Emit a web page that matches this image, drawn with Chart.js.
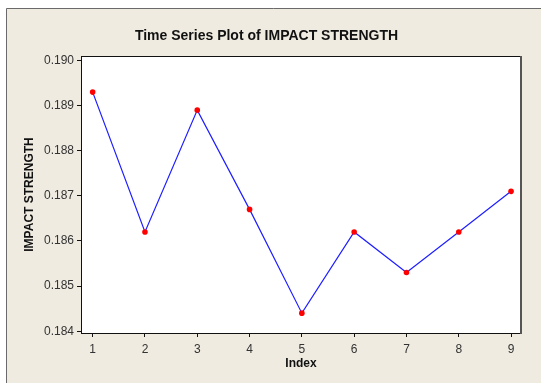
<!DOCTYPE html>
<html>
<head>
<meta charset="utf-8">
<script src="https://cdn.jsdelivr.net/npm/chart.js@4"></script>
<style>
  html, body { margin: 0; padding: 0; background: #fff; }
  #wrap { width: 541px; height: 383px; }
</style>
</head>
<body>
<div id="wrap"><canvas id="tsChart" width="541" height="383"></canvas></div>
<script>
// Data
const indexValues = [1, 2, 3, 4, 5, 6, 7, 8, 9];
const impactStrength = [0.1893, 0.1862, 0.1889, 0.1867, 0.1844, 0.1862, 0.1853, 0.1862, 0.1871];
const xTicks = [1, 2, 3, 4, 5, 6, 7, 8, 9];
const yTicks = [0.184, 0.185, 0.186, 0.187, 0.188, 0.189, 0.190];

const points = indexValues.map((x, i) => ({ x: x, y: impactStrength[i] }));

// Minitab style frame: beige panel, white plot area
const framePlugin = {
  id: 'frame',
  beforeDraw: function(chart) {
    const c = chart.ctx;
    const a = chart.chartArea;
    c.save();
    c.fillStyle = '#ffffff';
    c.fillRect(0, 0, chart.width, chart.height);
    c.fillStyle = '#efebe1';
    c.fillRect(6, 8, chart.width - 6, chart.height - 8);
    c.strokeStyle = '#6a6a6a';
    c.lineWidth = 1;
    c.beginPath();
    c.moveTo(6.5, chart.height);
    c.lineTo(6.5, 8.5);
    c.lineTo(chart.width, 8.5);
    c.stroke();
    c.fillStyle = '#ffffff';
    c.fillRect(a.left, a.top, a.right - a.left, a.bottom - a.top);
    c.restore();
  },
  afterDatasetsDraw: function(chart) {
    const c = chart.ctx;
    const a = chart.chartArea;
    c.save();
    c.lineWidth = 1;
    c.strokeStyle = '#111';
    c.beginPath();
    c.moveTo(a.left, a.top + 0.5);
    c.lineTo(a.right, a.top + 0.5);
    c.stroke();
    c.strokeStyle = '#555';
    c.lineWidth = 2;
    c.beginPath();
    c.moveTo(a.right, a.top);
    c.lineTo(a.right, a.bottom + 1);
    c.stroke();
    c.restore();
  }
};

new Chart(document.getElementById('tsChart'), {
  type: 'line',
  data: {
    datasets: [{
      label: 'IMPACT STRENGTH',
      data: points,
      borderColor: 'rgb(30, 30, 255)',
      borderWidth: 1.2,
      pointBackgroundColor: '#ff0000',
      pointBorderColor: '#ff0000',
      pointBorderWidth: 0,
      pointRadius: 2.8,
      tension: 0,
      fill: false
    }]
  },
  options: {
    responsive: false,
    animation: false,
    layout: { padding: { left: 12, right: 20, top: 0, bottom: 0 } },
    plugins: {
      legend: { display: false },
      tooltip: { enabled: false },
      title: {
        display: true,
        text: 'Time Series Plot of IMPACT STRENGTH',
        color: '#111',
        font: { family: 'Liberation Sans, Arial, sans-serif', size: 14, weight: 'bold' },
        padding: { top: 27.6, bottom: 11.6 }
      }
    },
    scales: {
      x: {
        type: 'linear',
        min: 0.777,
        max: 9.19,
        afterBuildTicks: function(scale) {
          scale.ticks = xTicks.map((v) => ({ value: v }));
        },
        afterFit: function(scale) { scale.height = 50; },
        border: { display: true, color: '#111', width: 1 },
        grid: { drawOnChartArea: false, drawTicks: true, tickLength: 4, color: '#111' },
        ticks: {
          color: '#333',
          padding: 5,
          maxRotation: 0,
          font: { family: 'Liberation Sans, Arial, sans-serif', size: 12 },
          callback: (v) => String(v)
        },
        title: {
          display: true,
          text: 'Index',
          color: '#111',
          font: { family: 'Liberation Sans, Arial, sans-serif', size: 12, weight: 'bold' },
          padding: { top: 4, bottom: 12 }
        }
      },
      y: {
        type: 'linear',
        min: 0.18396,
        max: 0.19010,
        afterBuildTicks: function(scale) {
          scale.ticks = yTicks.map((v) => ({ value: v }));
        },
        afterFit: function(scale) { scale.width = 69; },
        border: { display: true, color: '#111', width: 1 },
        grid: { drawOnChartArea: false, drawTicks: true, tickLength: 4, color: '#111' },
        ticks: {
          color: '#333',
          padding: 3,
          font: { family: 'Liberation Sans, Arial, sans-serif', size: 12 },
          callback: (v) => v.toFixed(3)
        },
        title: {
          display: true,
          text: 'IMPACT STRENGTH',
          color: '#111',
          font: { family: 'Liberation Sans, Arial, sans-serif', size: 12, weight: 'bold' },
          padding: { top: 10, bottom: 4 }
        }
      }
    }
  },
  plugins: [framePlugin]
});
</script>
</body>
</html>
